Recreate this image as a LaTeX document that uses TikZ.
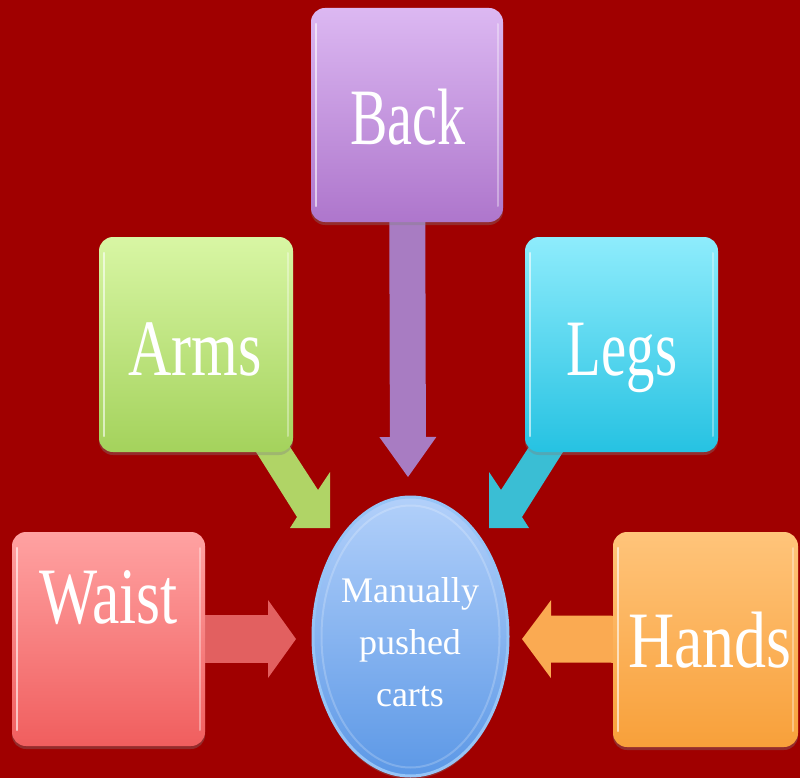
\documentclass[tikz,border=0pt]{standalone}
\usepackage{fontspec}
\setmainfont{Liberation Serif}
\usepackage{graphicx}
\usetikzlibrary{shapes.geometric,arrows.meta,shadows,calc}
\definecolor{bg}{RGB}{160,0,0}
\definecolor{backtop}{RGB}{220,184,242}
\definecolor{backbot}{RGB}{174,118,204}
\definecolor{backarr}{RGB}{168,124,194}
\definecolor{armstop}{RGB}{216,246,164}
\definecolor{armsbot}{RGB}{164,210,92}
\definecolor{armsarr}{RGB}{176,212,102}
\definecolor{legstop}{RGB}{142,236,252}
\definecolor{legsbot}{RGB}{38,194,226}
\definecolor{legsarr}{RGB}{58,190,212}
\definecolor{waisttop}{RGB}{255,162,162}
\definecolor{waistbot}{RGB}{240,94,94}
\definecolor{waistarr}{RGB}{226,96,96}
\definecolor{handstop}{RGB}{255,196,122}
\definecolor{handsbot}{RGB}{248,160,58}
\definecolor{handsarr}{RGB}{250,170,82}
\definecolor{elltop}{RGB}{178,208,250}
\definecolor{ellbot}{RGB}{92,152,230}
\definecolor{ellrim}{RGB}{150,196,246}
\begin{document}
\begin{tikzpicture}[x=1pt,y=-1pt,
  box/.style n args={4}{rounded corners=14pt, inner sep=0pt,
    minimum width=#1, minimum height=#2, top color=#3, bottom color=#4,
    drop shadow={shadow xshift=0pt, shadow yshift=-3pt, opacity=0.35},
    path picture={
      \draw[white, opacity=0.6, line width=2.2pt, line cap=round]
        ([xshift=5pt,yshift=-16pt]path picture bounding box.north west) --
        ([xshift=5pt,yshift=16pt]path picture bounding box.south west);
      \draw[white, opacity=0.35, line width=2pt, line cap=round]
        ([xshift=-5pt,yshift=-16pt]path picture bounding box.north east) --
        ([xshift=-5pt,yshift=16pt]path picture bounding box.south east);
    }},
  fat/.style n args={3}{line width=#1,
    -{Triangle[width=#2,length=#3,line width=0pt]}},
  lbl/.style={anchor=base, inner sep=0pt, text=white,
    font=\fontsize{80}{84}\selectfont},
  ctext/.style={inner sep=0pt, text=white, align=center,
    font=\fontsize{36}{52}\selectfont}
]
\fill[bg] (0,0) rectangle (800,778);
\useasboundingbox (0,0) rectangle (800,778);

% coordinates for arrow tips
\coordinate (backtip) at (408,477);
\coordinate (armstip) at (330,528);
\coordinate (legstip) at (489,528);
\coordinate (waisttip) at (296,639);
\coordinate (handstip) at (522,639);

% node centres
\coordinate (backc) at (407,115);
\coordinate (armsc) at (196,344.5);
\coordinate (legsc) at (621.5,344.5);
\coordinate (waistc) at (108.5,639);
\coordinate (handsc) at (705.5,639.5);

% straight arrows (drawn first, boxes cover their starts)
\draw[fat={36pt}{57pt}{40pt}, draw=backarr] (backc) -- (backtip);
\draw[fat={48pt}{78pt}{28pt}, draw=waistarr] (waistc) -- (waisttip);
\draw[fat={47pt}{78pt}{29pt}, draw=handsarr] (handsc) -- (handstip);

% diagonal block arrows (skewed heads)
\fill[armsarr] ($(armsc)+(49,90)$) -- ($(armsc)+(101,172.5)$) --
  ($(armstip)+(-40,0)$) -- (armstip) -- ($(armstip)+(0,-56)$) --
  ($(armsc)+(122,145.5)$) -- ($(armsc)+(86,90)$) -- cycle;
\fill[legsarr] ($(legsc)+(-47.5,90)$) -- ($(legsc)+(-99.5,172.5)$) --
  ($(legstip)+(40,0)$) -- (legstip) -- ($(legstip)+(0,-56)$) --
  ($(legsc)+(-120.5,145.5)$) -- ($(legsc)+(-84.5,90)$) -- cycle;

% boxes
\node[box={192pt}{214pt}{backtop}{backbot}] (back) at (backc) {};
\node[box={194pt}{215pt}{armstop}{armsbot}] (arms) at (armsc) {};
\node[box={193pt}{215pt}{legstop}{legsbot}] (legs) at (legsc) {};
\node[box={193pt}{214pt}{waisttop}{waistbot}] (waist) at (waistc) {};
\node[box={185pt}{215pt}{handstop}{handsbot}] (hands) at (handsc) {};

% centre ellipse
\node[ellipse, inner sep=0pt, minimum width=195pt, minimum height=279pt,
  top color=elltop, bottom color=ellbot, draw=ellrim, line width=3pt,
  drop shadow={shadow xshift=0pt, shadow yshift=-3pt, opacity=0.35},
  path picture={
    \draw[white, opacity=0.2, line width=2pt]
      (path picture bounding box.center) ellipse [x radius=89pt, y radius=131pt];
  }] (ell) at (410.5,636.5) {};

% labels
\node[lbl] (backl) at (408,145) {\scalebox{0.70}[1]{Back}};
\node[lbl] (armsl) at (195,375) {\scalebox{0.75}[1]{Arms}};
\node[lbl] (legsl) at (622,375) {\scalebox{0.71}[1]{Legs}};
\node[lbl] (waistl) at (108.5,623) {\scalebox{0.77}[1]{Waist}};
\node[lbl] (handsl) at (710,667) {\scalebox{0.80}[1]{Hands}};
\node[ctext] (ellt) at (410,642) {Manually\\pushed\\carts};
\end{tikzpicture}
\end{document}
